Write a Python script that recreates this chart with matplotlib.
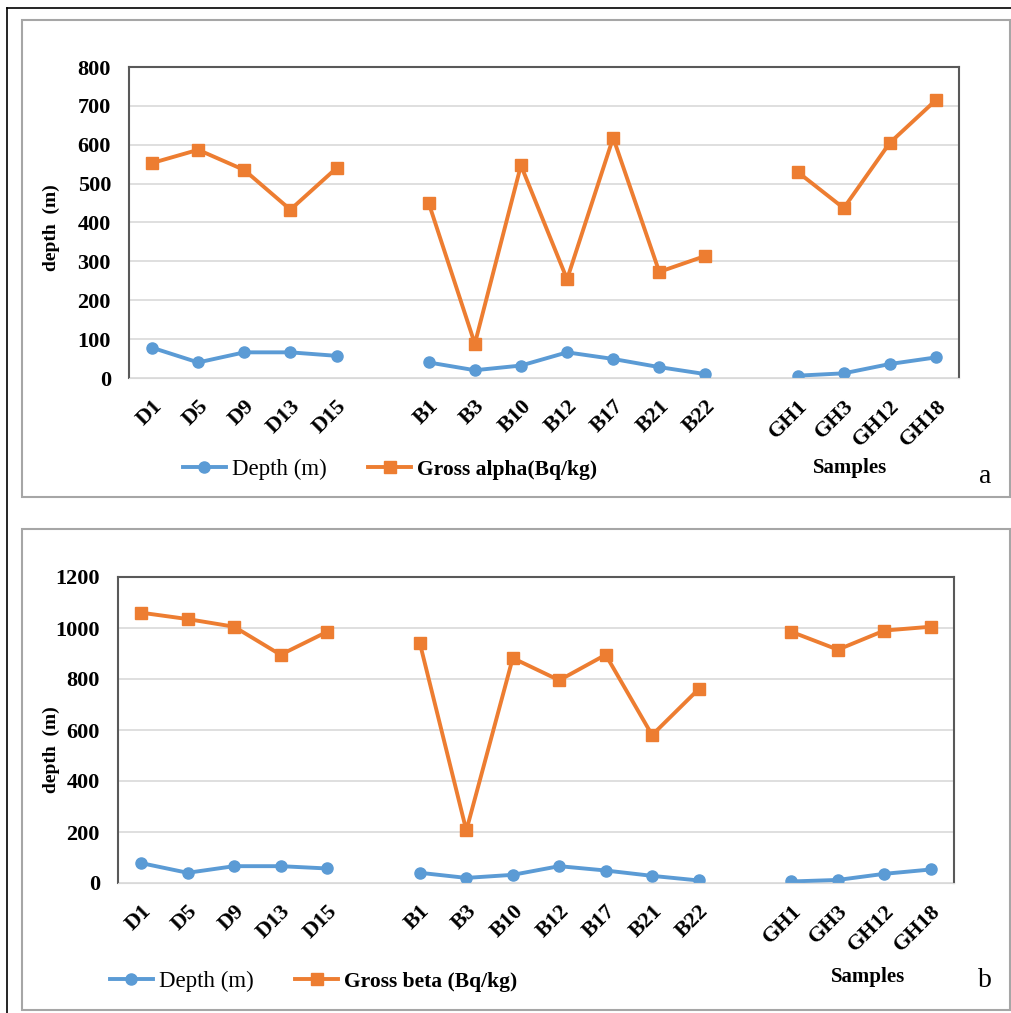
import numpy as np
import matplotlib
matplotlib.use('Agg')
import matplotlib.pyplot as plt
from matplotlib.patches import Rectangle
from matplotlib.lines import Line2D

plt.rcParams['font.family'] = ['Liberation Serif', 'DejaVu Serif']

# sample groups (a blank slot separates the groups on the x axis)
d_samples = ['D1', 'D5', 'D9', 'D13', 'D15']
b_samples = ['B1', 'B3', 'B10', 'B12', 'B17', 'B21', 'B22']
gh_samples = ['GH1', 'GH3', 'GH12', 'GH18']

depth_d = [78, 40, 66, 66, 57]
depth_b = [40, 20, 32, 66, 49, 28, 10]
depth_gh = [6, 12, 36, 53]

alpha_d = [553, 587, 535, 433, 540]
alpha_b = [450, 88, 547, 254, 618, 273, 314]
alpha_gh = [530, 437, 605, 715]

beta_d = [1060, 1035, 1005, 895, 985]
beta_b = [940, 206, 882, 795, 895, 580, 760]
beta_gh = [985, 915, 990, 1005]

def join(a, b, c):
    return np.array(list(a) + [np.nan] + list(b) + [np.nan] + list(c), dtype=float)

labels = d_samples + [''] + b_samples + [''] + gh_samples
x = np.arange(len(labels))
depth = join(depth_d, depth_b, depth_gh)
alpha = join(alpha_d, alpha_b, alpha_gh)
beta = join(beta_d, beta_b, beta_gh)

blue = '#5B9BD5'
orange = '#ED7D31'
W, H = 1012, 1013

fig = plt.figure(figsize=(W / 100, H / 100), dpi=100)

# outer frame lines and the two panel boxes
fig.add_artist(Line2D([7 / W, 7 / W], [0, 1 - 8 / H], color='black', lw=1.2))
fig.add_artist(Line2D([7 / W, 1], [1 - 8 / H, 1 - 8 / H], color='black', lw=1.2))
for top, bot in [(20, 497), (529, 1010)]:
    fig.add_artist(Rectangle((22 / W, 1 - bot / H), (1010 - 22) / W, (bot - top) / H,
                             fill=False, edgecolor='#a6a6a6', lw=1.5))

def panel(l, r, t, b, yvals, ymax, ystep, ylab_xy, legend_name, leg_xy, samp_xy, letter_xy, letter):
    ax = fig.add_axes([l / W, 1 - b / H, (r - l) / W, (b - t) / H])
    ax.plot(x, depth, color=blue, lw=2.8, marker='o', ms=8, label='Depth (m)')
    ax.plot(x, yvals, color=orange, lw=2.8, marker='s', ms=8.5, label=legend_name)
    ax.set_xlim(-0.5, len(labels) - 0.5)
    ax.set_ylim(0, ymax)
    ax.set_yticks(np.arange(0, ymax + 1, ystep))
    ax.set_xticks(x)
    ax.set_xticklabels(labels, rotation=45, ha='right', rotation_mode='anchor',
                       fontweight='bold', fontsize=16)
    for t_ in ax.get_yticklabels():
        t_.set_fontweight('bold')
        t_.set_fontsize(16)
    ax.tick_params(axis='y', length=0, pad=13)
    ax.tick_params(axis='x', length=0, pad=13)
    ax.grid(axis='y', color='#d9d9d9', lw=1.2)
    ax.set_axisbelow(True)
    for s in ['left', 'top', 'right']:
        ax.spines[s].set_color('#595959')
        ax.spines[s].set_linewidth(1.5)
    ax.spines['bottom'].set_color('#d9d9d9')
    ax.set_ylabel('depth  (m)', fontweight='bold', fontsize=14)
    ax.yaxis.set_label_coords(*ylab_xy)
    leg = fig.legend(handles=ax.get_lines(), loc='center left', ncol=2, frameon=False,
                     bbox_to_anchor=(leg_xy[0] / W, 1 - leg_xy[1] / H),
                     fontsize=16.5, handlelength=1.9, columnspacing=1.8, handletextpad=0.25)
    leg.get_texts()[1].set_fontweight('bold')
    leg.get_texts()[1].set_fontsize(15.5)
    fig.text(samp_xy[0] / W, 1 - samp_xy[1] / H, 'Samples', fontweight='bold', fontsize=15,
             ha='center', va='center')
    fig.text(letter_xy[0] / W, 1 - letter_xy[1] / H, letter, fontsize=20, ha='center', va='center')
    return ax

panel(129, 959, 67, 378, alpha, 800, 100, (-0.083, 0.485), 'Gross alpha(Bq/kg)',
      (162, 469), (850, 468), (985, 476), 'a')
panel(118, 954, 577, 883, beta, 1200, 200, (-0.069, 0.435), 'Gross beta (Bq/kg)',
      (89, 981), (868, 977), (985, 980), 'b')

fig.savefig('out.png', dpi=100)
